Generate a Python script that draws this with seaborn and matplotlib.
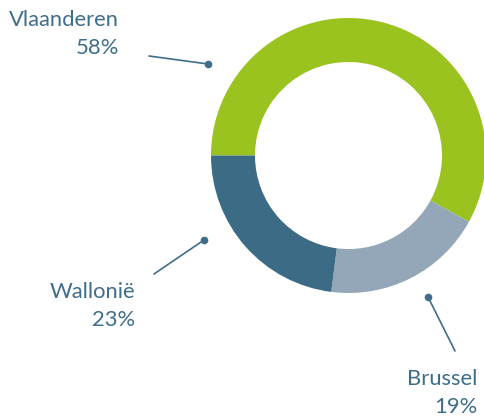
import matplotlib
matplotlib.use("Agg")
import matplotlib.pyplot as plt
import seaborn as sns

regions = ["Vlaanderen", "Brussel", "Wallonië"]
shares = [58, 19, 23]
colors = ["#9BC31F", "#93A7B9", "#3C6C85"]
text_color = "#3F6E8A"

sns.set_theme(style="white")
plt.rcParams['font.family'] = ['Lato', 'DejaVu Sans']

W, H = 484, 416
fig = plt.figure(figsize=(W / 100, H / 100), dpi=100)
ax = fig.add_axes([0, 0, 1, 1])

cx, cy, R = 348.5, H - 155.5, 137.5
ax.pie(shares, colors=colors, startangle=180, counterclock=False,
       center=(cx, cy), radius=R, frame=True,
       wedgeprops=dict(width=44, linewidth=0))
ax.set_xlim(0, W)
ax.set_ylim(0, H)
ax.set_aspect("equal")
ax.axis("off")

# label layout (pixel coords, y from top): text anchor, line start, dot
layout = {
    "Vlaanderen": dict(tx=119, ty=26, line=((149, 56), (208, 64))),
    "Wallonië": dict(tx=135, ty=298, line=((154, 274), (204, 240))),
    "Brussel": dict(tx=477, ty=385, line=((455, 351), (428, 297))),
}
for name, val in zip(regions, shares):
    L = layout[name]
    (x0, y0), (x1, y1) = L["line"]
    ax.plot([x0, x1], [H - y0, H - y1], color=text_color, lw=1.2)
    ax.plot([x1], [H - y1], "o", color=text_color, ms=4.5)
    ax.text(L["tx"], H - L["ty"], name, ha="right", va="baseline",
            fontsize=15.8, color=text_color)
    ax.text(L["tx"], H - L["ty"] - 28, f"{val}%", ha="right", va="baseline",
            fontsize=15.8, color=text_color)

fig.savefig("out.png", dpi=100)
